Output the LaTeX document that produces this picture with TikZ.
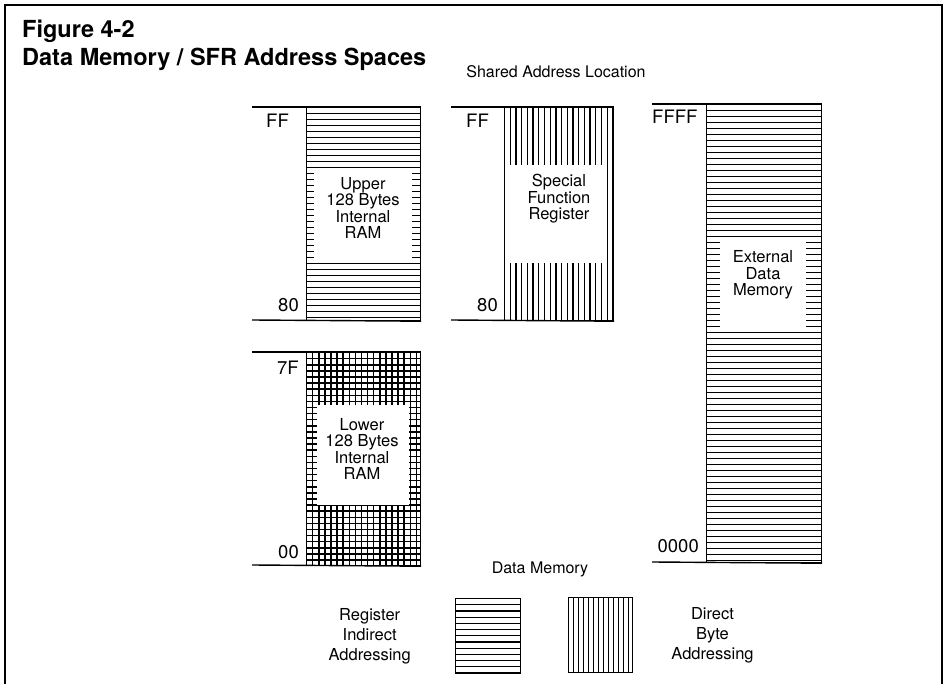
\documentclass[tikz,border=0pt]{standalone}
\usepackage{fontspec}
\setmainfont{TeX Gyre Heros}
\usetikzlibrary{positioning}
\tikzset{
  hatchline/.style={line width=1.3pt},
  rows/.style={path picture={%
    \foreach \k in {0,...,80}
      \draw[hatchline] ([yshift=-\k*#1]path picture bounding box.north west)
        -- ([yshift=-\k*#1]path picture bounding box.north east);}},
  cols/.style={path picture={%
    \foreach \k in {0,...,40}
      \draw[hatchline] ([xshift=\k*#1]path picture bounding box.north west)
        -- ([xshift=\k*#1]path picture bounding box.south west);}},
  checks/.style={path picture={%
    \foreach \k in {0,...,40}{
      \draw[hatchline, line width=1.5pt] ([yshift=-\k*#1]path picture bounding box.north west)
        -- ([yshift=-\k*#1]path picture bounding box.north east);
      \draw[hatchline, line width=1.5pt] ([xshift=\k*#1]path picture bounding box.north west)
        -- ([xshift=\k*#1]path picture bounding box.south west);}}}
}
\begin{document}
\begin{tikzpicture}[x=1pt, y=-1pt,
  titletxt/.style={font=\fontsize{23.5}{27}\selectfont\bfseries, anchor=base west, inner sep=0pt},
  addr/.style={font=\fontsize{18.5}{18.5}\selectfont, inner sep=0pt},
  blktxt/.style={font=\fontsize{16.5}{16.5}\selectfont, align=center, inner sep=0pt},
  legtxt/.style={font=\fontsize{16.5}{20}\selectfont, align=center, inner sep=0pt},
  memblk/.style={draw, line width=1.2pt, inner sep=0pt, anchor=north west},
  window/.style={fill=white, inner sep=0pt, anchor=north west},
  addrline/.style={line width=1.4pt}
]
\useasboundingbox (0,0) rectangle (948,684);
% frame, open at the foot
\draw[line width=1.5pt] (5,684) -- (5,5) -- (942,5) -- (942,684);

% title
\node[titletxt] (fig) at (22,38) {Figure 4-2};
\node[titletxt] (caption) at (22,66) {Data Memory / SFR Address Spaces};
\node[addr, font=\fontsize{16}{16}\selectfont, anchor=base] (shared) at (556,78) {Shared Address Location};

% upper 128 bytes
\node[memblk, rows=6pt, minimum width=114pt, minimum height=213pt] (upper) at (306,107) {};
\node[window, minimum width=98pt, minimum height=94pt] (upperwin) at (314,168) {};
\node[blktxt] (uppertxt) at (363,208) {Upper\\128 Bytes\\Internal\\RAM};
\coordinate (uppertop) at (252,107);
\coordinate (upperbot) at (252,320);
\draw[addrline] (uppertop) -- (upper.north east);
\draw[addrline] (upperbot) -- (upper.south east);
\node[addr, anchor=base west] (upperff) at (266,128) {FF};
\node[addr, anchor=base east] (upper80) at (299,312) {80};

% lower 128 bytes
\node[memblk, checks=6.1pt, minimum width=114pt, minimum height=213pt] (lower) at (306,352) {};
\node[window, minimum width=92pt, minimum height=100pt] (lowerwin) at (317,405) {};
\node[blktxt] (lowertxt) at (362,449) {Lower\\128 Bytes\\Internal\\RAM};
\coordinate (lowertop) at (252,352);
\coordinate (lowerbot) at (252,565);
\draw[addrline] (lowertop) -- (lower.north east);
\draw[addrline] (lowerbot) -- (lower.south east);
\node[addr, anchor=base east] (lower7f) at (299,375) {7F};
\node[addr, anchor=base east] (lower00) at (299,558) {00};

% special function registers
\node[memblk, cols=5.7pt, minimum width=109pt, minimum height=213pt] (sfr) at (504,107) {};
\node[window, minimum width=97pt, minimum height=98pt] (sfrwin) at (510,165) {};
\node[blktxt] (sfrtxt) at (559,199) {Special\\Function\\Register};
\coordinate (sfrtop) at (451,107);
\coordinate (sfrbot) at (451,320);
\draw[addrline] (sfrtop) -- (sfr.north east);
\draw[addrline] (sfrbot) -- (sfr.south east);
\node[addr, anchor=base west] (sfrff) at (466,128) {FF};
\node[addr, anchor=base east] (sfr80) at (498,312) {80};

% external data memory
\node[memblk, rows=6pt, minimum width=115pt, minimum height=458pt] (ext) at (706,104) {};
\node[window, minimum width=86pt, minimum height=90pt] (extwin) at (720,237) {};
\node[blktxt] (exttxt) at (763,275) {External\\Data\\Memory};
\coordinate (exttop) at (652,104);
\coordinate (extbot) at (652,562);
\draw[addrline] (exttop) -- (ext.north east);
\draw[addrline] (extbot) -- (ext.south east);
\node[addr, anchor=base west] (extffff) at (652,124) {FFFF};
\node[addr, anchor=base east] (ext0000) at (699,552) {0000};

% legend
\node[addr, font=\fontsize{16}{16}\selectfont] (datamem) at (540,569) {Data Memory};
\node[memblk, rows=6.2pt, minimum width=65pt, minimum height=75pt] (legrows) at (455,598) {};
\node[memblk, cols=5pt, minimum width=64pt, minimum height=75pt] (legcols) at (568,597) {};
\node[legtxt, left=44pt of legrows] (legrowstxt) {Register\\Indirect\\Addressing};
\node[legtxt, right=38pt of legcols] (legcolstxt) {Direct\\Byte\\Addressing};
\end{tikzpicture}
\end{document}
